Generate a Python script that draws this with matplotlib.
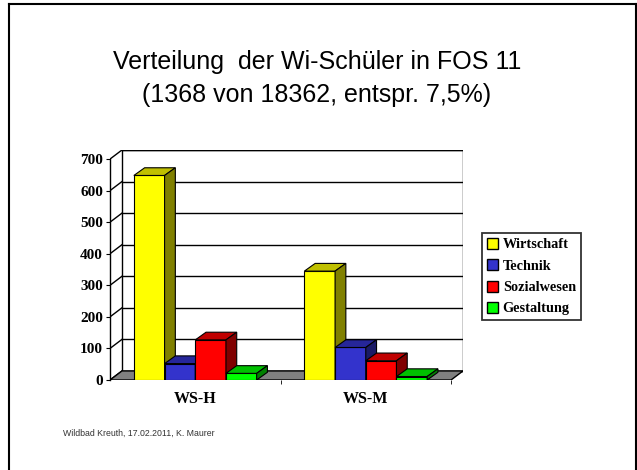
import matplotlib
matplotlib.use('Agg')
import matplotlib.pyplot as plt
from matplotlib.patches import Polygon, Patch
from matplotlib.lines import Line2D

# data
categories = ['WS-H', 'WS-M']
series = ['Wirtschaft', 'Technik', 'Sozialwesen', 'Gestaltung']
values = {
    'Wirtschaft': [648, 345],
    'Technik': [52, 103],
    'Sozialwesen': [127, 61],
    'Gestaltung': [21, 11],
}
yticks = [0, 100, 200, 300, 400, 500, 600, 700]

# front / top / side colours per series
front = {'Wirtschaft': '#FFFF00', 'Technik': '#3333CC', 'Sozialwesen': '#FF0000', 'Gestaltung': '#00FF00'}
top = {'Wirtschaft': '#C0C000', 'Technik': '#262699', 'Sozialwesen': '#C00000', 'Gestaltung': '#00C000'}
side = {'Wirtschaft': '#808000', 'Technik': '#1A1A66', 'Sozialwesen': '#800000', 'Gestaltung': '#008000'}

W, H = 637, 470
fig = plt.figure(figsize=(W / 100, H / 100), dpi=100)

# page frame (left, top, right)
for seg in [((9, 9), (0, H - 4)), ((9, 636), (H - 4, H - 4)), ((636, 636), (H - 4, 0))]:
    fig.add_artist(Line2D([seg[0][0] / W, seg[0][1] / W], [seg[1][0] / H, seg[1][1] / H],
                          transform=fig.transFigure, color='black', lw=1.5))

fig.text(317 / W, 1 - 69 / H, 'Verteilung  der Wi-Schüler in FOS 11', ha='center', va='baseline',
         fontsize=18, family='Liberation Sans')
fig.text(317 / W, 1 - 102 / H, '(1368 von 18362, entspr. 7,5%)', ha='center', va='baseline',
         fontsize=18, family='Liberation Sans')
fig.text(63 / W, 1 - 436 / H, 'Wildbad Kreuth, 17.02.2011, K. Maurer', fontsize=6.3,
         family='Liberation Sans', color='#333333')

# axes: front plane in data coords, depth offset DX/DY
x0, x1, yb, yt = 110, 463, 380, 150
ax = fig.add_axes([x0 / W, 1 - yb / H, (x1 - x0) / W, (yb - yt) / H])
DX = 12 / 171
DY = 28.7
ax.set_xlim(-0.5, 1.5 + DX)
ax.set_ylim(0, 700 + DY)
ax.patch.set_alpha(0)

# back wall + gridlines
ax.add_patch(Polygon([(-0.5 + DX, DY), (1.5 + DX, DY), (1.5 + DX, 700 + DY), (-0.5 + DX, 700 + DY)],
                     closed=True, facecolor='white', edgecolor='black', lw=1, zorder=0))
for v in yticks:
    ax.plot([-0.5 + DX, 1.5 + DX], [v + DY, v + DY], color='black', lw=1, zorder=1)
    ax.plot([-0.5, -0.5 + DX], [v, v + DY], color='black', lw=1, zorder=1)
# floor
ax.add_patch(Polygon([(-0.5, 0), (1.5, 0), (1.5 + DX, DY), (-0.5 + DX, DY)],
                     closed=True, facecolor='#808080', edgecolor='black', lw=1, zorder=1))

# bars with fake depth
w = 0.18
bdx, bdy = DX * 0.9, DY * 0.85
z = 2
for j in range(len(categories)):
    for i, s in enumerate(series):
        h = values[s][j]
        l = j + (i - 2) * w
        ax.bar(l, h, width=w, align='edge', color=front[s], edgecolor='black', lw=0.8, zorder=z)
        ax.add_patch(Polygon([(l, h), (l + w, h), (l + w + bdx, h + bdy), (l + bdx, h + bdy)],
                             closed=True, facecolor=top[s], edgecolor='black', lw=0.8, zorder=z))
        ax.add_patch(Polygon([(l + w, 0), (l + w + bdx, bdy), (l + w + bdx, h + bdy), (l + w, h)],
                             closed=True, facecolor=side[s], edgecolor='black', lw=0.8, zorder=z))
        z += 1

for sp in ['top', 'right', 'bottom']:
    ax.spines[sp].set_visible(False)
ax.spines['left'].set_bounds(0, 700)
ax.spines['left'].set_linewidth(1)
ax.set_yticks(yticks)
ax.set_yticklabels([str(v) for v in yticks], fontsize=11, fontweight='bold', family='Liberation Serif')
ax.tick_params(axis='y', direction='out', length=3, pad=2)
ax.set_xticks(range(len(categories)))
ax.set_xticklabels(categories, fontsize=11.5, fontweight='bold', family='Liberation Serif')
ax.tick_params(axis='x', length=0, pad=8)
ax.set_xticks([0.5, 1.5], minor=True)
ax.tick_params(axis='x', which='minor', length=3, direction='out')

handles = [Patch(facecolor=front[s], edgecolor='black', label=s) for s in series]
leg = fig.legend(handles=handles, loc='upper left', bbox_to_anchor=(482 / W, 1 - 233 / H),
                 prop={'family': 'Liberation Serif', 'weight': 'bold', 'size': 10.3},
                 fancybox=False, frameon=True, edgecolor='black', handlelength=0.8, handleheight=0.8,
                 handletextpad=0.3, borderpad=0.35, labelspacing=0.55, borderaxespad=0)
leg.get_frame().set_linewidth(1.3)

fig.savefig('out.png', dpi=100)
